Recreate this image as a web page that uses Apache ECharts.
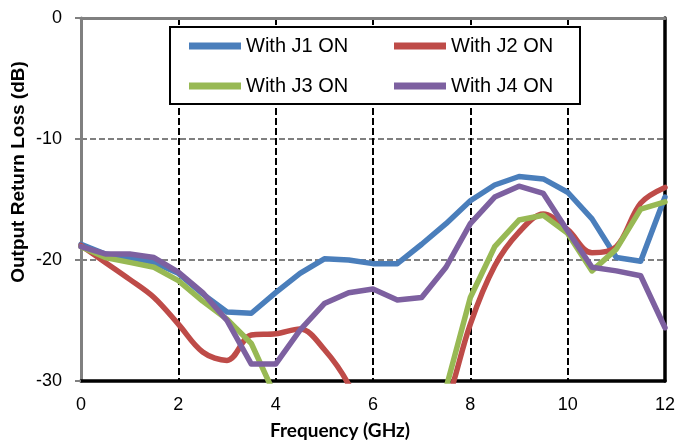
<!DOCTYPE html>
<html>
<head>
<meta charset="utf-8">
<script src="https://cdn.jsdelivr.net/npm/echarts@6/dist/echarts.min.js"></script>
<style>
html,body{margin:0;padding:0;background:#fff;}
#chart{width:680px;height:443px;}
</style>
</head>
<body>
<div id="chart"></div>
<script>
// Frequency points (GHz)
const freq = [0, 0.5, 1, 1.5, 2, 2.5, 3, 3.5, 4, 4.5, 5, 5.5, 6, 6.5, 7, 7.5, 8, 8.5, 9, 9.5, 10, 10.5, 11, 11.5, 12];
// Output return loss (dB)
const j1 = [-18.7, -19.5, -19.8, -20.2, -21.1, -22.8, -24.3, -24.4, -22.7, -21.1, -19.9, -20.0, -20.3, -20.3, -18.7, -17.0, -15.1, -13.8, -13.1, -13.3, -14.4, -16.6, -19.8, -20.1, -14.8];
const j2 = [-18.8, -20.2, -21.6, -23.1, -25.3, -27.6, -28.3, -26.2, -26.1, -25.7, -27.4, -30.3, -35, -38, -36, -32, -25.3, -20.5, -17.7, -16.2, -17.5, -19.4, -18.9, -15.3, -14.0];
const j3 = [-18.9, -19.8, -20.2, -20.6, -21.7, -23.4, -24.9, -26.9, -31.3, -35, -38, -40, -40, -38, -35, -30.6, -23.1, -18.9, -16.7, -16.3, -17.8, -20.9, -19.1, -15.8, -15.2];
const j4 = [-18.9, -19.5, -19.5, -19.8, -21.0, -22.7, -25.0, -28.6, -28.6, -25.8, -23.6, -22.7, -22.4, -23.3, -23.1, -20.6, -17.0, -14.8, -13.9, -14.5, -17.6, -20.6, -20.9, -21.3, -25.6];
const seriesNames = ['With J1 ON', 'With J2 ON', 'With J3 ON', 'With J4 ON'];
const xTitle = 'Frequency (GHz)';
const yTitle = 'Output Return Loss (dB)';

const colors = ['#4A7EBB', '#BE4B48', '#98B954', '#7D60A0'];
const pairs = arr => arr.map((v, i) => [freq[i], v]);
const allData = [j1, j2, j3, j4];
const smoothFlags = [false, 0.35, false, false];

const chart = echarts.init(document.getElementById('chart'), null, {renderer: 'canvas'});
const font = "'Liberation Sans', Arial, sans-serif";

chart.setOption({
  animation: false,
  backgroundColor: '#fff',
  grid: {left: 81, right: 15, top: 18, bottom: 62, containLabel: false},
  xAxis: [{
    type: 'value', min: 0, max: 12, interval: 2, position: 'bottom',
    axisLine: {show: true, onZero: false, lineStyle: {color: '#000', width: 3.5}},
    axisTick: {show: false},
    axisLabel: {color: '#000', fontFamily: font, fontSize: 18, margin: 15},
    splitLine: {show: true, lineStyle: {color: '#000', width: 2, type: [7, 3]}}
  }, {
    type: 'value', min: 0, max: 12, interval: 2, position: 'top',
    axisLine: {show: true, onZero: false, lineStyle: {color: '#808080', width: 3}},
    axisTick: {show: false}, axisLabel: {show: false}, splitLine: {show: false}
  }],
  yAxis: [{
    type: 'value', min: -30, max: 0, interval: 10, position: 'left',
    axisLine: {show: true, onZero: false, lineStyle: {color: '#808080', width: 3}},
    axisTick: {show: true, inside: false, length: 6, lineStyle: {color: '#808080', width: 2}},
    axisLabel: {color: '#000', fontFamily: font, fontSize: 18, margin: 19},
    splitLine: {show: true, lineStyle: {color: '#808080', width: 2, type: [6, 3]}}
  }, {
    type: 'value', min: -30, max: 0, interval: 10, position: 'right',
    axisLine: {show: true, onZero: false, lineStyle: {color: '#000', width: 3.5}},
    axisTick: {show: false}, axisLabel: {show: false}, splitLine: {show: false}
  }],
  legend: {
    data: seriesNames,
    left: 189, top: 26, width: 420,
    padding: 0, itemGap: 0,
    itemWidth: 52, itemHeight: 7,
    icon: 'rect',
    textStyle: {color: '#000', fontFamily: font, fontSize: 20, width: 148, lineHeight: 40},
    z: 10
  },
  graphic: [
    {type: 'rect', z: 5, shape: {x: 170, y: 27, width: 410, height: 77},
     style: {fill: '#fff', stroke: '#000', lineWidth: 2}},
    {type: 'text', x: 19, y: 172, rotation: Math.PI / 2, z: 10,
     style: {text: yTitle, fill: '#000', font: "bold 19px 'Liberation Sans', Arial, sans-serif",
             textAlign: 'center', textVerticalAlign: 'middle'}},
    {type: 'text', x: 340, y: 431, z: 10,
     style: {text: xTitle, fill: '#000', font: "bold 19px Lato, 'Open Sans', sans-serif",
             textAlign: 'center', textVerticalAlign: 'middle'}}
  ],
  series: allData.map((d, i) => ({
    name: seriesNames[i],
    type: 'line',
    data: pairs(d),
    showSymbol: false,
    symbol: 'none',
    smooth: smoothFlags[i],
    clip: true,
    color: colors[i],
    lineStyle: {color: colors[i], width: 5.5, cap: 'round', join: 'round'},
    itemStyle: {color: colors[i]},
    z: 2 + i
  }))
});
</script>
</body>
</html>
